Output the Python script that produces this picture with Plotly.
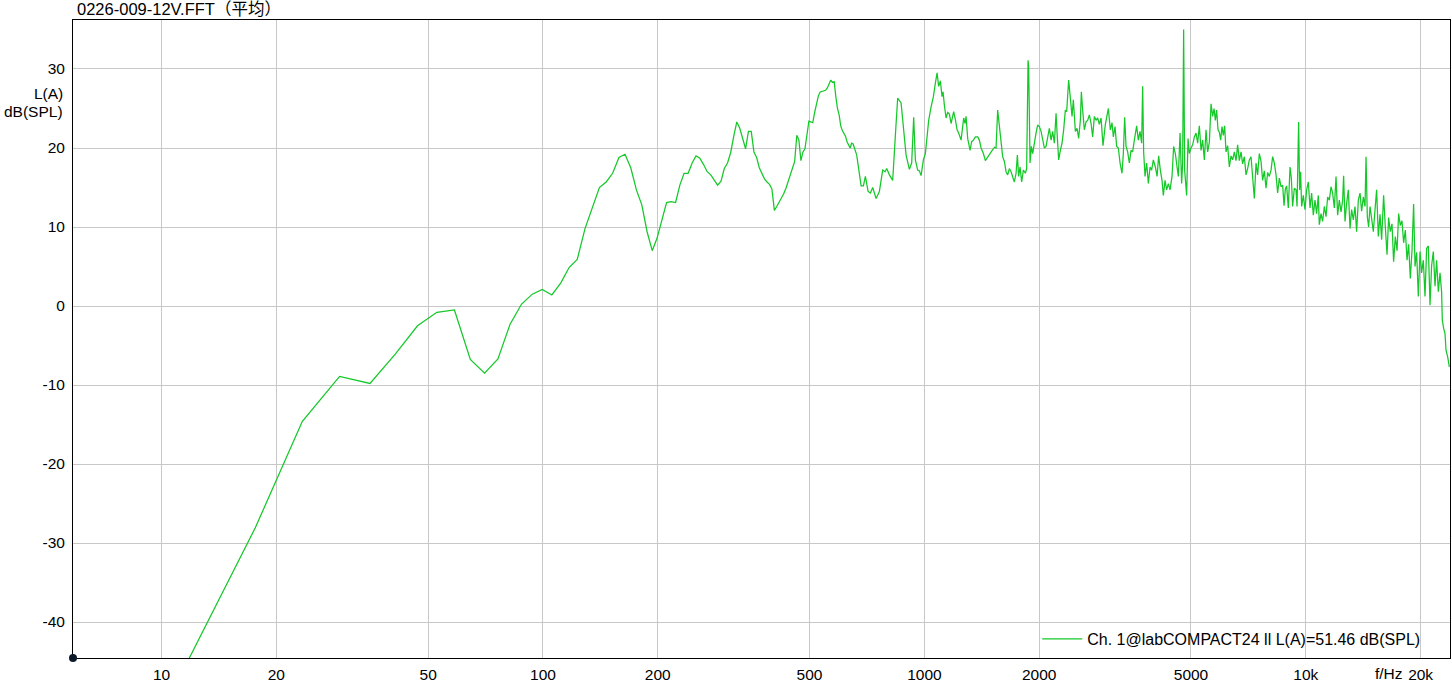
import plotly.graph_objects as go

# ---------------- data ----------------
# FFT bins below ~650 Hz (frequency in Hz)
freq_low = [11.7, 17.6, 23.4, 29.3, 35.2, 41.0, 46.9, 52.7, 58.6, 64.5,
            70.3, 76.2, 82.0, 87.9, 93.8, 99.6, 105.5, 111.3, 117.2, 123.0,
            128.9, 134.8, 140.6, 146.5, 152.3, 158.2, 164.1, 169.9, 175.8, 181.6,
            187.5, 193.4, 199.2, 205.1, 210.9, 216.8, 222.7, 228.5, 234.4, 240.2,
            246.1, 251.9, 257.8, 263.7, 269.5, 275.4, 281.3, 287.1, 293.0, 298.8,
            304.7, 310.5, 316.4, 322.3, 328.1, 334.0, 339.8, 345.7, 351.6, 357.4,
            363.3, 369.1, 375.0, 380.9, 386.7, 392.6, 398.4, 404.3, 410.2, 416.0,
            421.9, 427.7, 433.6, 439.5, 445.3, 451.2, 457.0, 462.9, 468.8, 474.6,
            480.5, 486.3, 492.2, 498.0, 503.9, 509.8, 515.6, 521.5, 527.3, 533.2,
            539.0, 544.9, 550.8, 556.6, 562.5, 568.4, 574.2, 580.1, 585.9, 591.8,
            597.7, 603.5, 609.4, 615.2, 621.1, 627.0, 632.8, 638.7, 644.5, 650.4]
level_low = [-45.0, -28.1, -14.6, -8.9, -9.8, -6.1, -2.5, -0.8, -0.5, -6.75,
             -8.5, -6.7, -2.3, 0.25, 1.5, 2.1, 1.4, 2.9, 4.9, 5.9,
             9.8, 12.6, 15.0, 15.7, 16.8, 18.8, 19.2, 17.5, 14.7, 12.8,
             9.4, 7.0, 8.6, 10.9, 13.1, 13.2, 13.1, 15.3, 16.8, 16.8,
             18.1, 19.0, 18.7, 17.9, 17.0, 16.6, 16.0, 15.3, 15.8, 17.4,
             18.1, 19.4, 21.5, 23.3, 22.5, 21.0, 19.9, 22.1, 22.1, 19.5,
             18.8, 17.5, 16.7, 16.1, 15.7, 15.4, 14.8, 12.1, 12.6, 13.1,
             13.6, 14.2, 14.9, 15.8, 16.6, 17.6, 18.3, 21.6, 21.0, 18.4,
             19.5, 19.9, 22.0, 23.4, 23.3, 23.2, 24.5, 25.5, 26.6, 27.1,
             27.2, 27.2, 27.3, 27.6, 28.2, 28.6, 28.3, 28.4, 26.5, 25.0,
             24.2, 22.8, 22.2, 21.9, 21.5, 20.8, 20.3, 20.0, 20.6, 20.5]

# (frequency Hz, level dB) from ~660 Hz to 5 kHz
points_mid = [
    (664.7, 19.1), (682.5, 15.2), (692.0, 15.2), (700.4, 16.4), (711.9, 14.5),
    (721.9, 14.3), (732.0, 15.0), (747.1, 13.6), (762.1, 14.5), (777.5, 17.2),
    (788.8, 17.0), (796.6, 17.4), (809.6, 16.6), (825.9, 15.9), (843.0, 23.1),
    (851.1, 26.3), (868.8, 25.7), (881.0, 22.7), (895.4, 19.1), (913.5, 17.3),
    (926.2, 18.1), (937.5, 23.9), (947.1, 18.5), (960.3, 17.2), (970.3, 17.1),
    (980.3, 16.5), (994.0, 18.5), (1006.1, 19.3), (1014.0, 21.0), (1026.3, 23.5),
    (1041.3, 25.2), (1055.8, 26.5), (1068.6, 28.2), (1079.7, 29.5), (1090.1, 27.8),
    (1101.4, 28.5), (1112.5, 26.5), (1119.3, 27.1), (1128.3, 25.4), (1139.9, 23.8),
    (1151.0, 24.5), (1162.9, 24.3), (1174.9, 23.1), (1193.4, 24.6), (1205.8, 23.6),
    (1218.3, 22.3), (1230.0, 21.9), (1248.0, 21.0), (1267.7, 23.8), (1278.4, 23.1),
    (1286.2, 24.0), (1298.7, 21.2), (1317.7, 19.7), (1330.4, 20.8), (1344.2, 21.0),
    (1360.5, 21.4), (1379.5, 21.4), (1393.7, 21.0), (1408.2, 20.0), (1427.8, 19.3),
    (1445.1, 18.4), (1465.3, 18.9), (1486.7, 19.3), (1510.2, 19.8), (1528.5, 20.1),
    (1541.5, 20.0), (1556.5, 24.8), (1572.5, 22.7), (1588.8, 20.0), (1604.2, 18.9),
    (1620.7, 18.3), (1637.4, 17.0), (1653.3, 16.6), (1670.3, 17.4), (1687.6, 17.0),
    (1704.0, 16.4), (1721.5, 15.7), (1739.2, 16.8), (1753.0, 19.1), (1766.8, 16.4),
    (1781.8, 17.6), (1799.0, 15.7), (1817.6, 17.2), (1839.7, 16.8), (1854.2, 17.4),
    (1870.0, 31.1), (1876.7, 30.3), (1892.6, 18.1), (1907.5, 20.2), (1922.6, 19.3),
    (1942.4, 20.8), (1962.4, 21.9), (1981.4, 22.9), (2001.9, 22.7), (2022.6, 22.1),
    (2042.2, 21.0), (2063.2, 20.0), (2084.4, 20.2), (2104.7, 21.2), (2126.4, 22.5),
    (2148.4, 21.0), (2169.2, 22.1), (2191.6, 20.6), (2214.2, 24.4), (2227.8, 21.9),
    (2249.2, 18.5), (2272.4, 19.7), (2295.5, 20.6), (2318.0, 22.3), (2342.1, 24.8),
    (2360.6, 24.6), (2389.2, 28.6), (2409.5, 26.7), (2438.3, 24.0), (2457.9, 26.1),
    (2487.8, 22.1), (2513.6, 22.5), (2537.8, 21.2), (2564.0, 23.5), (2579.5, 27.1),
    (2599.9, 24.8), (2626.7, 22.3), (2653.8, 23.3), (2679.5, 23.5), (2707.2, 24.2),
    (2735.2, 23.1), (2761.7, 21.4), (2790.1, 24.0), (2818.8, 23.5), (2846.2, 23.8),
    (2875.6, 23.0), (2905.3, 23.8), (2940.2, 20.3), (2981.6, 23.0), (3036.1, 25.0),
    (3073.0, 22.3), (3104.2, 23.2), (3129.1, 21.4), (3161.3, 22.7), (3192.2, 20.2),
    (3225.0, 20.0), (3258.3, 18.1), (3297.3, 16.8), (3323.8, 19.3), (3350.0, 23.9),
    (3378.4, 20.2), (3411.2, 19.5), (3446.4, 18.1), (3482.1, 19.7), (3515.9, 19.5),
    (3552.1, 21.0), (3601.8, 22.8), (3638.9, 21.0), (3676.4, 22.1), (3711.9, 20.6),
    (3734.7, 27.8), (3757.1, 19.5), (3788.9, 16.4), (3825.9, 18.1), (3865.3, 15.5),
    (3905.2, 17.6), (3942.9, 17.2), (3983.7, 18.5), (4032.0, 17.6), (4073.9, 16.4),
    (4113.2, 19.0), (4155.6, 17.2), (4197.8, 15.9), (4231.5, 14.0), (4275.1, 15.9),
    (4316.8, 14.7), (4361.2, 15.5), (4406.2, 14.7), (4459.0, 16.4), (4502.8, 20.2),
    (4549.5, 19.3), (4596.7, 17.6), (4632.6, 16.4), (4680.4, 21.9), (4725.6, 15.5),
    (4754.5, 18.1), (4783.0, 35.0), (4812.0, 17.2), (4870.6, 14.0), (4912.0, 21.2),
    (4950.5, 19.3),
]

# (frequency Hz, level dB) from 5 kHz to 24 kHz
points_high = [
    (5001.8, 20.0), (5050.3, 20.4), (5102.3, 21.4), (5154.9, 21.9), (5204.9, 20.6),
    (5258.6, 22.8), (5313.0, 19.7), (5364.6, 21.0), (5419.8, 18.5), (5475.6, 22.3),
    (5528.7, 19.5), (5585.8, 20.7), (5643.6, 25.6), (5698.4, 24.0), (5747.2, 25.0),
    (5791.8, 23.5), (5837.6, 24.8), (5887.1, 22.3), (5933.3, 22.0), (5980.4, 21.0),
    (6029.9, 22.7), (6078.3, 21.6), (6126.2, 22.8), (6178.2, 19.5), (6238.1, 20.3),
    (6302.5, 17.6), (6367.8, 19.0), (6429.5, 18.5), (6495.7, 19.5), (6562.6, 18.4),
    (6626.3, 20.4), (6694.7, 18.4), (6764.0, 19.5), (6829.6, 18.0), (6899.8, 18.9),
    (6970.9, 16.6), (7038.5, 17.4), (7111.1, 18.5), (7184.8, 18.9), (7254.5, 16.4),
    (7329.1, 13.6), (7404.6, 18.1), (7476.4, 16.6), (7553.6, 19.3), (7631.8, 18.3),
    (7705.8, 15.9), (7785.1, 17.1), (7865.3, 14.9), (7941.6, 16.9), (8023.6, 16.4),
    (8106.6, 17.2), (8185.3, 18.9), (8269.5, 18.1), (8354.7, 16.6), (8435.7, 14.3),
    (8522.8, 16.2), (8611.0, 15.1), (8694.6, 15.3), (8769.0, 12.7), (8837.1, 14.8),
    (8907.0, 15.2), (8998.6, 12.4), (9091.4, 17.6), (9163.0, 16.2), (9235.5, 12.6),
    (9330.5, 14.9), (9426.6, 14.7), (9484.5, 12.6), (9575.9, 23.3), (9634.7, 14.7),
    (9692.5, 17.0), (9750.4, 12.6), (9851.2, 14.0), (9952.7, 12.2), (10050, 14.7),
    (10153, 15.7), (10258, 12.4), (10357, 14.3), (10464, 11.5), (10570, 13.4),
    (10673, 11.7), (10783, 14.0), (10848, 10.3), (10961, 11.7), (11067, 10.7),
    (11183, 12.6), (11298, 11.3), (11408, 13.8), (11526, 13.4), (11645, 15.1),
    (11758, 14.3), (11879, 12.4), (12001, 16.4), (12118, 11.5), (12243, 13.4),
    (12370, 11.9), (12490, 13.4), (12564, 16.5), (12671, 10.7), (12795, 13.0),
    (12926, 14.7), (13060, 9.8), (13186, 12.2), (13322, 10.9), (13459, 12.6),
    (13591, 9.4), (13730, 13.4), (13872, 14.3), (14006, 12.0), (14151, 13.8),
    (14297, 12.6), (14384, 18.9), (14497, 11.3), (14611, 10.0), (14735, 12.6),
    (14878, 11.1), (15032, 9.4), (15187, 12.2), (15335, 14.7), (15492, 8.8),
    (15652, 11.6), (15804, 8.4), (15996, 14.0), (16161, 10.0), (16329, 6.5),
    (16486, 11.2), (16656, 9.4), (16825, 10.4), (16991, 5.6), (17166, 8.8),
    (17345, 7.0), (17512, 11.7), (17692, 10.2), (17872, 10.8), (18048, 8.0),
    (18235, 9.6), (18424, 5.8), (18602, 7.8), (18793, 3.5), (18984, 7.0),
    (19171, 12.9), (19334, 5.0), (19523, 6.8), (19723, 1.2), (19927, 6.9),
    (20119, 4.2), (20328, 5.8), (20537, 1.2), (20737, 7.3), (20951, 7.6),
    (21167, 0.1), (21371, 5.1), (21592, 6.9), (21814, 2.5), (22027, 5.8),
    (22254, 1.8), (22483, 4.2), (22701, 1.8), (22797, -1.8), (22977, -2.8),
    (23172, -3.5), (23313, -5.6), (23539, -6.4), (23782, -7.7),
]

x_tick_values = [10, 20, 50, 100, 200, 500, 1000, 2000, 5000, 10000, 20000]
x_tick_labels = ["10", "20", "50", "100", "200", "500", "1000", "2000", "5000", "10k", "20k"]
y_tick_values = [-40, -30, -20, -10, 0, 10, 20, 30]
y_tick_labels = ["-40", "-30", "-20", "-10", "0", "10", "20", "30"]

title_text = "0226-009-12V.FFT（平均）"
series_name = "Ch. 1@labCOMPACT24 ll L(A)=51.46 dB(SPL)"
x_range_hz = (5.86, 23880)
y_range_db = (-44.55, 36.2)

# ---------------------------------------------------------------------
import math

freqs = freq_low + [p[0] for p in points_mid] + [p[0] for p in points_high]
levels = level_low + [p[1] for p in points_mid] + [p[1] for p in points_high]

FONT = "Liberation Sans, Arial, Noto Sans CJK SC, sans-serif"
GREEN = "#14c828"

fig = go.Figure()
fig.add_trace(go.Scatter(
    x=freqs, y=levels, mode="lines", name=series_name,
    line=dict(color=GREEN, width=1.25),
    showlegend=True,
))

axis_common = dict(
    showline=True, linecolor="black", linewidth=1, mirror=True,
    showgrid=True, gridcolor="#c8c8c8", gridwidth=1,
    zeroline=False, ticks="",
    tickfont=dict(family=FONT, size=15.5, color="black"),
)

fig.update_xaxes(
    type="log",
    range=[math.log10(x_range_hz[0]), math.log10(x_range_hz[1])],
    tickmode="array", tickvals=x_tick_values, ticktext=x_tick_labels,
    ticklabelstandoff=2,
    **axis_common,
)
fig.update_yaxes(
    range=list(y_range_db),
    tickmode="array", tickvals=y_tick_values, ticktext=y_tick_labels,
    ticklabelstandoff=4,
    **axis_common,
)

fig.update_layout(
    width=1452, height=692,
    margin=dict(l=73, r=2, t=20, b=34),
    paper_bgcolor="white", plot_bgcolor="white",
    font=dict(family=FONT, size=15.5, color="black"),
    showlegend=True,
    legend=dict(
        x=0.982, y=0.030, xanchor="right", yanchor="middle",
        bgcolor="rgba(0,0,0,0)", borderwidth=0,
        font=dict(family=FONT, size=16, color="black"),
        itemwidth=40,
    ),
    annotations=[
        dict(text=title_text, xref="paper", yref="paper", x=0, y=1,
             xanchor="left", yanchor="middle", xshift=2, yshift=11,
             showarrow=False, font=dict(family=FONT, size=16.5, color="black")),
        dict(text="L(A)", xref="paper", yref="paper", x=0, y=0.8845,
             xanchor="right", yanchor="middle", xshift=-8,
             showarrow=False, font=dict(family=FONT, size=15.5, color="black")),
        dict(text="dB(SPL)", xref="paper", yref="paper", x=0, y=0.8558,
             xanchor="right", yanchor="middle", xshift=-8,
             showarrow=False, font=dict(family=FONT, size=15.5, color="black")),
        dict(text="f/Hz", xref="paper", yref="paper", x=0.956, y=0,
             xanchor="center", yanchor="middle", yshift=-15.5,
             showarrow=False, font=dict(family=FONT, size=15.5, color="black")),
    ],
    shapes=[
        dict(type="circle", xref="paper", yref="paper",
             xsizemode="pixel", ysizemode="pixel", xanchor=0, yanchor=0,
             x0=-4, x1=4, y0=-4, y1=4,
             fillcolor="#0d1a2b", line=dict(color="#0d1a2b", width=0),
             layer="above"),
    ],
)

fig.write_html(
    "out.html",
    config={"displayModeBar": False},
    post_script="document.body.style.margin='0';document.body.style.overflow='hidden';",
)
